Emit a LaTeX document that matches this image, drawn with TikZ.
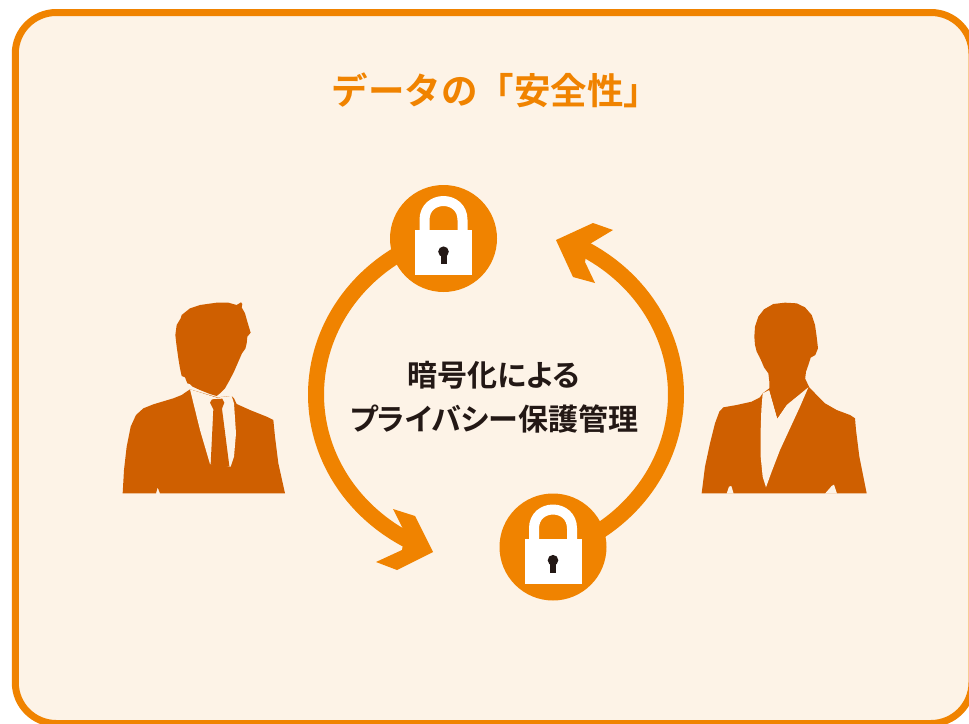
\documentclass[tikz,border=0pt]{standalone}
\usepackage{fontspec}
\newfontfamily\cjkbold{Noto Sans CJK JP Bold}
\newfontfamily\cjkboldp{Noto Sans CJK JP Bold}[RawFeature=+palt]
\definecolor{bgcream}{HTML}{FDF3E7}
\definecolor{accent}{HTML}{F08300}
\definecolor{figure}{HTML}{CF5F00}
\definecolor{inkdark}{HTML}{231815}
\begin{document}
\begin{tikzpicture}[x=1pt,y=-1pt,
  ring/.style={draw=accent, line width=16pt},
  tip/.style={fill=accent},
  lockdisc/.style={circle, fill=accent, minimum size=107pt, inner sep=0pt},
  silhouette/.style={fill=figure},
  shirt/.style={fill=bgcream}]
\useasboundingbox (0,0) rectangle (969,723);
\fill[white] (0,0) rectangle (969,723);
% panel with rounded frame
\draw[accent, line width=7pt, fill=bgcream, rounded corners=41pt]
  (15.3,12.5) rectangle (972,723.5);

% title
\node[font=\cjkbold\fontsize{36.5}{36.5}\selectfont, text=accent] (title) at (496,90) {データの「安全性」};

% circular arrows
\draw[ring] plot[smooth, domain=100:242, samples=70]
  ({496+180*cos(\x)}, {394.5-167*sin(\x)});
\draw[ring] plot[smooth, domain=-80:62, samples=70]
  ({496+180*cos(\x)}, {394.5-167*sin(\x)});
\fill[tip] (433,552) -- (397,570) -- (376,562) -- (402,550) -- (405,533)
  -- (393,509) -- (415,516) -- cycle;
\fill[tip] (556,240) -- (593,223) -- (613,230) -- (588,245) -- (585,262)
  -- (595,283) -- (573,277) -- cycle;

% padlocks
\node[lockdisc] (lockA) at (443.5,238.5) {};
\node[lockdisc] (lockB) at (553,547) {};
\foreach \L in {lockA,lockB}{
  \begin{scope}[shift={(\L.center)}]
    \draw[white, line width=10pt] (-19,-6) -- (-19,-18.5)
      .. controls (-19,-43.8) and (19,-43.8) .. (19,-18.5) -- (19,-6);
    \fill[white] (-28.5,-8.5) rectangle (28.5,36.5);
    \fill[inkdark] (0,13.2) circle (5.3);
    \fill[inkdark] (-3,13) rectangle (3,25.5);
  \end{scope}
}

% caption in the middle
\node[align=center, font=\cjkboldp\fontsize{30}{44}\selectfont, text=inkdark] (caption)
  at (494,397) {暗号化による\\プライバシー保護管理};

% man
\begin{scope}[shift={(110,290)}, scale=1/3]
  \fill[silhouette] (38,610) -- (42,540) -- (50,470) -- (62,410) -- (78,375)
    -- (100,355) -- (130,343) -- (190,325) -- (215,315) -- (240,298)
    -- (322,322) -- (365,318) -- (372,325) -- (380,342) -- (420,360)
    -- (470,380) -- (490,390) -- (495,440) -- (505,520) -- (525,610)
    -- (150,610) -- (143,592) -- (138,610) -- cycle;
  \fill[shirt] (240,298) -- (320,323) -- (365,318) -- (372,340) -- (378,430)
    -- (372,500) -- (362,530) -- (330,525) -- (300,522) -- (270,420) -- cycle;
  \fill[silhouette] (300,338) -- (306,328) -- (337,326) -- (343,338) -- (336,356)
    -- (358,528) -- (330,534) -- (302,522) -- (310,358) -- cycle;
  \fill[silhouette] (215,75) -- (240,55) -- (270,45) -- (320,38) -- (355,38)
    -- (380,45) -- (393,37) -- (397,42) -- (395,52) -- (405,70) -- (412,95)
    -- (418,115) -- (422,128) -- (412,140) -- (410,160) -- (406,176)
    -- (396,190) -- (385,215) -- (372,245) -- (358,272) -- (345,295)
    -- (330,310) -- (320,318) -- (300,312) -- (270,300) -- (248,290)
    -- (240,282) -- (232,280) -- (225,262) -- (215,258) -- (210,235)
    -- (205,205) -- (200,170) -- (196,135) -- (200,105) -- (212,85) -- cycle;
\end{scope}

% woman
\begin{scope}[shift={(690,290)}, scale=1/3]
  \fill[silhouette] (35,610) -- (45,530) -- (60,460) -- (75,400) -- (88,365)
    -- (100,352) -- (140,345) -- (185,335) -- (210,322) -- (218,310)
    -- (238,295) -- (345,265) -- (358,292) -- (380,315) -- (405,340)
    -- (440,360) -- (480,375) -- (495,385) -- (498,420) -- (508,500)
    -- (530,610) -- cycle;
  \fill[shirt] (110,611) -- (117,590) -- (124,588) -- (131,611) -- cycle;
  \fill[shirt] (405,611) -- (425,588) -- (432,584) -- (441,611) -- cycle;
  \fill[shirt] (218,310) -- (238,300) -- (262,385) -- (290,345) -- (355,292)
    -- (330,350) -- (300,415) -- (270,480) -- (245,545) -- (228,592)
    -- (218,560) -- (212,500) -- (212,420) -- (214,360) -- cycle;
  \fill[silhouette] (262,385) -- (238,300) -- (238,275) -- (235,250)
    -- (222,232) -- (215,215) -- (208,200) -- (200,185) -- (195,165)
    -- (193,140) -- (195,110) -- (205,80) -- (222,58) -- (250,42)
    -- (285,38) -- (320,40) -- (345,52) -- (365,75) -- (375,105)
    -- (380,140) -- (384,175) -- (376,195) -- (362,203) -- (355,225)
    -- (348,245) -- (345,270) -- (352,290) -- (320,318) -- (292,340)
    -- cycle;
\end{scope}
\end{tikzpicture}
\end{document}
